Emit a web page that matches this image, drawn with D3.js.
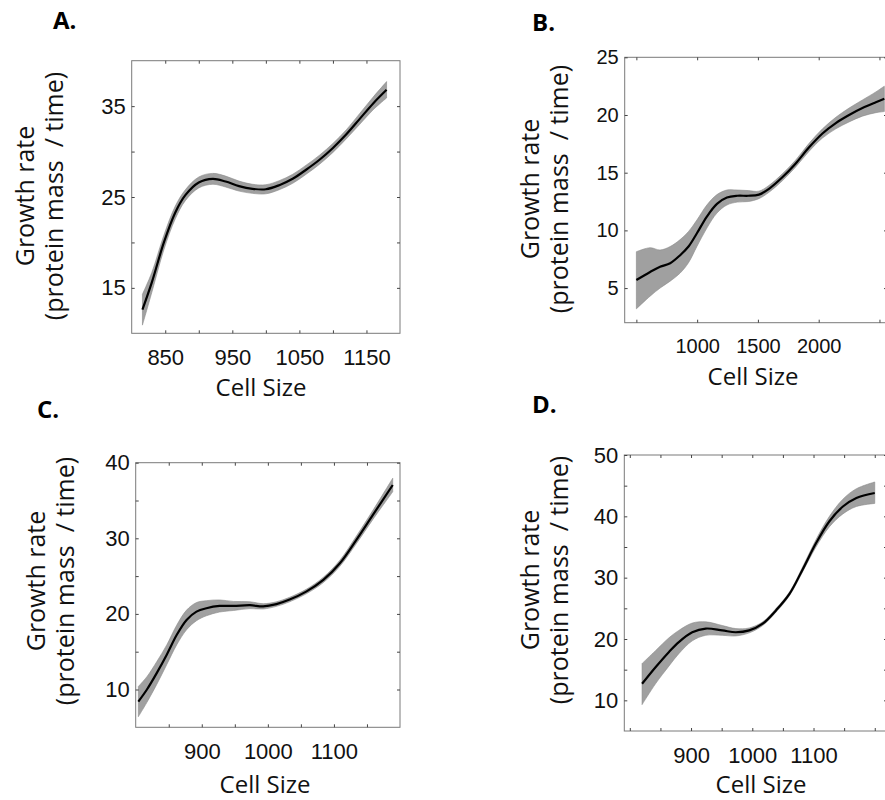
<!DOCTYPE html>
<html>
<head>
<meta charset="utf-8">
<script src="https://cdn.jsdelivr.net/npm/d3@7"></script>
<style>
  body { margin: 0; background: #fff; }
  svg { display: block; }
</style>
</head>
<body>
<svg id="fig" width="885" height="800"></svg>
<script>
// Panel A
const aSize = [816, 830, 848, 865, 880, 900, 921, 940, 960, 980, 1000, 1020, 1040, 1060, 1080, 1100, 1120, 1140, 1160, 1180];
const aRate = [12.6, 15.6, 20.0, 23.3, 25.2, 26.6, 27.0, 26.7, 26.2, 25.9, 25.85, 26.3, 27.0, 28.0, 29.1, 30.4, 31.9, 33.6, 35.3, 36.8];
const aLow  = [10.9, 14.5, 19.2, 22.6, 24.6, 26.0, 26.4, 26.1, 25.65, 25.4, 25.35, 25.8, 26.5, 27.5, 28.6, 29.9, 31.4, 33.0, 34.6, 35.9];
const aHigh = [14.3, 16.7, 20.8, 24.0, 25.8, 27.2, 27.6, 27.3, 26.75, 26.4, 26.35, 26.8, 27.5, 28.5, 29.6, 30.9, 32.4, 34.2, 36.0, 37.7];
const aXTicks = [850, 900, 950, 1000, 1050, 1100, 1150];
const aXLabels = [850, 950, 1050, 1150];
const aYTicks = [15, 20, 25, 30, 35];
const aYLabels = [15, 25, 35];

// Panel B
const bSize = [500, 613, 695, 778, 860, 929, 998, 1080, 1163, 1245, 1330, 1420, 1508, 1591, 1701, 1811, 1921, 2031, 2141, 2250, 2360, 2470, 2540];
const bRate = [5.7, 6.4, 6.85, 7.15, 7.85, 8.6, 9.75, 11.2, 12.3, 12.85, 13.0, 13.0, 13.1, 13.6, 14.6, 15.8, 17.2, 18.4, 19.3, 20.0, 20.6, 21.1, 21.4];
const bLow  = [3.2, 4.3, 5.0, 5.6, 6.3, 7.2, 8.6, 10.2, 11.5, 12.2, 12.45, 12.5, 12.75, 13.3, 14.3, 15.5, 16.85, 18.0, 18.8, 19.4, 19.9, 20.2, 20.3];
const bHigh = [8.15, 8.5, 8.3, 8.6, 9.2, 9.9, 10.9, 12.2, 13.1, 13.5, 13.5, 13.45, 13.4, 13.9, 14.9, 16.1, 17.55, 18.8, 19.8, 20.6, 21.3, 22.0, 22.5];
const bXTicks = [500, 1000, 1500, 2000, 2500];
const bXLabels = [1000, 1500, 2000];
const bYTicks = [5, 10, 15, 20, 25];
const bYLabels = [5, 10, 15, 20, 25];

// Panel C
const cSize = [804, 817, 832, 847, 862, 877, 892, 907, 927, 948, 973, 993, 1013, 1033, 1058, 1084, 1109, 1134, 1159, 1189];
const cRate = [8.4, 10.0, 12.2, 14.6, 17.2, 19.2, 20.3, 20.75, 21.05, 21.05, 21.15, 21.0, 21.3, 21.9, 22.95, 24.5, 26.7, 29.8, 33.1, 37.05];
const cLow  = [6.4, 8.3, 10.7, 13.3, 15.9, 17.9, 19.1, 19.75, 20.25, 20.45, 20.7, 20.65, 21.0, 21.6, 22.65, 24.15, 26.3, 29.3, 32.5, 36.15];
const cHigh = [10.4, 11.7, 13.7, 15.9, 18.5, 20.5, 21.5, 21.75, 21.85, 21.65, 21.6, 21.35, 21.6, 22.2, 23.25, 24.85, 27.1, 30.3, 33.7, 37.95];
const cXTicks = [850, 900, 950, 1000, 1050, 1100, 1150];
const cXLabels = [900, 1000, 1100];
const cYTicks = [10, 15, 20, 25, 30, 35, 40];
const cYLabels = [10, 20, 30, 40];

// Panel D
const dSize = [820, 842, 864, 880, 902, 924, 951, 973, 995, 1017, 1039, 1061, 1082, 1104, 1126, 1148, 1170, 1200];
const dRate = [12.7, 15.4, 17.9, 19.5, 21.1, 21.7, 21.4, 21.1, 21.4, 22.5, 24.7, 27.4, 31.3, 35.6, 39.2, 41.6, 43.0, 43.8];
const dLow  = [9.3, 12.7, 15.6, 17.6, 19.7, 20.6, 20.6, 20.5, 21.0, 22.2, 24.4, 27.1, 30.9, 35.0, 38.3, 40.4, 41.6, 42.1];
const dHigh = [16.0, 18.1, 20.2, 21.4, 22.6, 22.8, 22.2, 21.7, 21.8, 22.8, 25.0, 27.7, 31.7, 36.2, 40.0, 42.8, 44.5, 45.6];
const dXTicks = [800, 850, 900, 950, 1000, 1050, 1100, 1150, 1200];
const dXLabels = [900, 1000, 1100];
const dYTicks = [10, 15, 20, 25, 30, 35, 40, 45, 50];
const dYLabels = [10, 20, 30, 40, 50];

const panels = [
  { letter: "A.", lx: 53, ly: 29, box: [131.7, 400, 60.7, 333.3], xDom: [800, 1200], yDom: [10, 40],
    size: aSize, rate: aRate, low: aLow, high: aHigh,
    xTicks: aXTicks, xLabels: aXLabels, yTicks: aYTicks, yLabels: aYLabels,
    fs: 22, xTitleX: 261, xTitleY: 396, yTitleY: 196, yTitleX: [34, 63] },
  { letter: "B.", lx: 532, ly: 31, box: [624.7, 887, 57.3, 322.7], xDom: [404, 2562], yDom: [2, 25],
    size: bSize, rate: bRate, low: bLow, high: bHigh,
    xTicks: bXTicks, xLabels: bXLabels, yTicks: bYTicks, yLabels: bYLabels,
    fs: 20, xTitleX: 753, xTitleY: 385, yTitleY: 189, yTitleX: [539, 568] },
  { letter: "C.", lx: 37, ly: 418, box: [135.7, 400, 462.7, 727.3], xDom: [800, 1200], yDom: [5, 40],
    size: cSize, rate: cRate, low: cLow, high: cHigh,
    xTicks: cXTicks, xLabels: cXLabels, yTicks: cYTicks, yLabels: cYLabels,
    fs: 22, xTitleX: 265, xTitleY: 793, yTitleY: 581, yTitleX: [45, 74] },
  { letter: "D.", lx: 532, ly: 413, box: [624.3, 887, 455, 731], xDom: [791, 1220], yDom: [5, 50],
    size: dSize, rate: dRate, low: dLow, high: dHigh,
    xTicks: dXTicks, xLabels: dXLabels, yTicks: dYTicks, yLabels: dYLabels,
    fs: 22, xTitleX: 761, xTitleY: 793, yTitleY: 580, yTitleX: [539, 568] }
];

const svg = d3.select("#fig");
const labelFont = "'Open Sans', 'Noto Sans', sans-serif";
const tickFont = "'Liberation Sans', Arial, sans-serif";

panels.forEach(p => {
  const [x0, x1, y0, y1] = p.box;
  const x = d3.scaleLinear().domain(p.xDom).range([x0, x1]);
  const y = d3.scaleLinear().domain(p.yDom).range([y1, y0]);
  const g = svg.append("g");

  // confidence band
  const band = p.size.map((s, i) => [s, p.low[i], p.high[i]]);
  g.append("path").datum(band)
    .attr("d", d3.area().x(d => x(d[0])).y0(d => y(d[1])).y1(d => y(d[2])).curve(d3.curveCatmullRom))
    .attr("fill", "#a0a0a0").attr("stroke", "#8a8a8a").attr("stroke-width", 0.6);

  // mean curve
  const line = p.size.map((s, i) => [s, p.rate[i]]);
  g.append("path").datum(line)
    .attr("d", d3.line().x(d => x(d[0])).y(d => y(d[1])).curve(d3.curveCatmullRom))
    .attr("fill", "none").attr("stroke", "#000").attr("stroke-width", 2.2);

  // box
  g.append("rect")
    .attr("x", x0).attr("y", y0).attr("width", x1 - x0).attr("height", y1 - y0)
    .attr("fill", "none").attr("stroke", "#7a7a7a").attr("stroke-width", 1);

  const xFmt = d => p.xLabels.includes(d) ? d : "";
  const yFmt = d => p.yLabels.includes(d) ? d : "";

  const axes = [
    g.append("g").attr("transform", `translate(0,${y1})`)
      .call(d3.axisBottom(x).tickValues(p.xTicks).tickSize(-3).tickSizeOuter(0).tickPadding(16).tickFormat(xFmt)),
    g.append("g").attr("transform", `translate(0,${y0})`)
      .call(d3.axisTop(x).tickValues(p.xTicks).tickSize(-3).tickSizeOuter(0).tickFormat("")),
    g.append("g").attr("transform", `translate(${x0},0)`)
      .call(d3.axisLeft(y).tickValues(p.yTicks).tickSize(-3).tickSizeOuter(0).tickPadding(6).tickFormat(yFmt)),
    g.append("g").attr("transform", `translate(${x1},0)`)
      .call(d3.axisRight(y).tickValues(p.yTicks).tickSize(-3).tickSizeOuter(0).tickFormat(""))
  ];
  axes.forEach(a => {
    a.select(".domain").remove();
    a.selectAll(".tick line").attr("stroke", "#444");
    a.selectAll("text").attr("font-family", tickFont).attr("font-size", p.fs).attr("fill", "#111");
  });

  // axis titles
  g.append("text")
    .attr("x", p.xTitleX).attr("y", p.xTitleY)
    .attr("text-anchor", "middle")
    .attr("font-family", labelFont).attr("font-size", 24).attr("fill", "#111")
    .text("Cell Size");
  g.append("text")
    .attr("transform", `translate(${p.yTitleX[0]},${p.yTitleY}) rotate(-90)`)
    .attr("text-anchor", "middle")
    .attr("font-family", labelFont).attr("font-size", 25).attr("fill", "#111")
    .text("Growth rate");
  g.append("text")
    .attr("transform", `translate(${p.yTitleX[1]},${p.yTitleY}) rotate(-90)`)
    .attr("text-anchor", "middle")
    .style("white-space", "pre")
    .attr("font-family", labelFont).attr("font-size", 25).attr("fill", "#111")
    .text("(protein mass  / time)");

  // panel letter
  svg.append("text")
    .attr("x", p.lx).attr("y", p.ly)
    .attr("font-family", labelFont).attr("font-weight", "bold").attr("font-size", 24).attr("fill", "#000")
    .text(p.letter);
});
</script>
</body>
</html>
